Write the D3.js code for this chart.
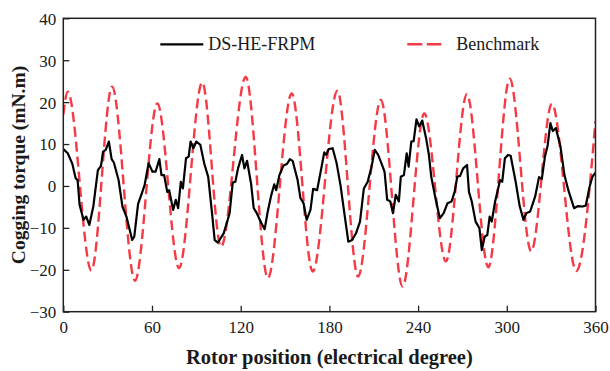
<!DOCTYPE html>
<html>
<head>
<meta charset="utf-8">
<script src="https://cdn.jsdelivr.net/npm/d3@7"></script>
<style>
  body { margin: 0; background: #fff; }
  svg { display: block; }
</style>
</head>
<body>
<div id="chart"></div>
<script>
// cogging torque data
var dsAngle = [0, 3, 6, 8.4, 9.7, 11, 13.7, 15.5, 17.6, 20.3, 23.4, 25.5, 26.9, 28.7, 30.8, 32.7, 34.2, 37.4, 40, 42.7, 46.6, 48, 50.6, 52.4, 55, 57.7, 60.3, 62.4, 65, 66.4, 68.2, 70.3, 71.6, 74.3, 76.1, 77.7, 79.5, 80.9, 83, 84.8, 86.1, 88, 90, 92.7, 95.3, 98, 100.6, 102.4, 104.6, 108.5, 112.5, 114.6, 116.4, 118.2, 120.9, 122.5, 124.3, 127, 128.8, 130.9, 134, 136.2, 138.3, 140.6, 142.7, 144, 146.2, 148.8, 151.4, 153.3, 155.1, 158.5, 160.4, 162.5, 164.6, 167.2, 169, 171.7, 174.3, 176.5, 177.8, 179.6, 182.2, 184.9, 187.5, 190.1, 192.8, 195.4, 198, 200.7, 203.3, 205.9, 208.5, 210.7, 213, 215.2, 217.3, 219.1, 221.2, 223, 224.9, 227, 228.3, 230.4, 232.3, 233.6, 235.4, 237, 238.9, 240.7, 242.8, 245.4, 247.3, 248.9, 251.5, 254.7, 257.3, 259.9, 262.6, 264.7, 266.5, 268.4, 270.5, 273.1, 274.4, 276.3, 278.9, 281.5, 283.1, 285, 286.8, 288.4, 289.8, 292.1, 295.5, 296.9, 298.7, 300.8, 302.6, 306, 308.7, 311.3, 313.2, 315.8, 319.2, 321.8, 323.7, 325.8, 327.6, 329.5, 331.1, 333.2, 336.3, 339, 341.6, 345.5, 348.2, 351.3, 353.4, 356, 357.9, 360];
var dsTorque = [8.8, 7.8, 5.4, 1.8, 1.4, -4.5, -8.1, -7.3, -9.3, -4.9, 3.8, 4.8, 8.2, 8.6, 10.6, 6.4, 5.6, 1.4, -4.9, -7.3, -12.9, -12.1, -4.3, -2.5, 0.2, 5.4, 3.4, 3.4, 6.4, 2.6, 2.6, -1.4, -1.0, -5.7, -3.3, -5.3, 1.0, -0.6, 6.6, 7.0, 10.6, 9.0, 10.6, 9.8, 5.4, 2.2, -6.5, -12.9, -13.5, -11.3, -6.5, 0.8, 1.0, 4.2, 7.4, 4.2, 6.0, 0.6, -5.3, -6.5, -8.9, -10.3, -6.1, -2.3, 0.4, -1.0, 2.6, 4.8, 5.3, 6.4, 6.0, 1.4, -2.9, -4.1, -8.1, -5.7, -0.7, -1.0, 3.8, 8.0, 7.4, 8.8, 9.0, 5.4, 0.2, -6.5, -13.3, -12.9, -11.3, -8.5, -0.6, 1.0, 4.6, 8.6, 7.4, 5.4, 3.4, -3.3, -3.7, -6.5, -2.1, -3.7, 2.2, 2.6, 7.8, 4.6, 10.6, 10.7, 15.9, 14.2, 15.6, 11.4, 7.4, 2.2, -2.5, -7.7, -6.5, -4.1, -3.7, -1.4, 2.2, 2.4, 4.2, 5.0, -1.4, -3.7, -8.5, -10.1, -15.3, -12.1, -11.7, -7.3, -8.5, -3.7, 1.4, 1.0, 6.6, 7.4, 7.2, 1.0, -4.8, -8.1, -6.5, -6.1, -2.5, 2.1, 1.7, 7.0, 9.6, 15.0, 13.1, 13.8, 9.4, 2.6, -1.0, -5.3, -4.8, -4.9, -4.7, -0.2, 2.2, 3.2];

var benchAngle = [0, 3, 19, 33, 48.5, 63.6, 78.3, 94, 106.7, 123.4, 138.4, 154.5, 168.7, 185.4, 199.4, 214.8, 229.5, 244.2, 258.8, 273, 287.5, 302, 316.5, 330.5, 347, 360];
var benchTorque = [17, 22.5, -20.2, 23.7, -22.6, 19.7, -19.6, 24.7, -14.5, 26, -22, 22.1, -20.4, 22.7, -21.6, 20.5, -24, 17.3, -18, 21.9, -19.4, 25.6, -15.6, 19.6, -20.3, 15.5];

var xTicks = [0, 60, 120, 180, 240, 300, 360];
var yTicks = [-30, -20, -10, 0, 10, 20, 30, 40];
var seriesNames = ["DS-HE-FRPM", "Benchmark"];

var FONT = "'Liberation Serif'";

var W = 610, H = 371;
var margin = {top: 18.3, right: 14.5, bottom: 59.3, left: 63.3},
    width = W - margin.left - margin.right,
    height = H - margin.top - margin.bottom;

var svg = d3.select("#chart").append("svg")
    .attr("width", W)
    .attr("height", H);

var g = svg.append("g")
    .attr("transform", "translate(" + margin.left + "," + margin.top + ")");

var x = d3.scaleLinear().domain([0, 360]).range([0, width]);
var y = d3.scaleLinear().domain([-30, 40]).range([height, 0]);

var dsData = dsAngle.map(function(a, i){ return {x: a, y: dsTorque[i]}; });
var benchData = benchAngle.map(function(a, i){ return {x: a, y: benchTorque[i]}; });

var lineDs = d3.line()
    .x(function(d){ return x(d.x); })
    .y(function(d){ return y(d.y); });
var lineBench = d3.line()
    .curve(d3.curveMonotoneX)
    .x(function(d){ return x(d.x); })
    .y(function(d){ return y(d.y); });

// clip to plot box
g.append("clipPath").attr("id", "clip")
  .append("rect").attr("width", width).attr("height", height);

g.append("path")
    .datum(benchData)
    .attr("d", lineBench)
    .attr("clip-path", "url(#clip)")
    .style("fill", "none")
    .style("stroke", "#f43a44")
    .style("stroke-width", "2.4px")
    .style("stroke-dasharray", "10,5");

g.append("path")
    .datum(dsData)
    .attr("d", lineDs)
    .attr("clip-path", "url(#clip)")
    .style("fill", "none")
    .style("stroke", "#000")
    .style("stroke-width", "2.2px")
    .style("stroke-linejoin", "round");

// axes, ticks pointing inward
var xAxis = g.append("g")
    .attr("transform", "translate(0," + height + ")")
    .call(d3.axisBottom(x).tickValues(xTicks).tickSizeInner(-6).tickSizeOuter(0).tickPadding(9));
var yAxis = g.append("g")
    .call(d3.axisLeft(y).tickValues(yTicks).tickSizeInner(-6).tickSizeOuter(0).tickPadding(7));

[xAxis, yAxis].forEach(function(ax){
  ax.select(".domain").remove();
  ax.selectAll("line").style("stroke", "#222").style("stroke-width", "1.3px");
  ax.selectAll("text")
    .style("font-family", FONT)
    .style("font-size", "17px")
    .style("fill", "#1a1a1a");
});
yAxis.selectAll("text").attr("dy", "0.35em");
xAxis.selectAll("text").attr("dy", "0.75em");

// frame
g.append("rect")
    .attr("width", width)
    .attr("height", height)
    .style("fill", "none")
    .style("stroke", "#222")
    .style("stroke-width", "1.5px");

// axis titles
svg.append("text")
    .attr("x", margin.left + width / 2)
    .attr("y", 364)
    .attr("text-anchor", "middle")
    .style("font-family", FONT)
    .style("font-size", "20.5px")
    .style("font-weight", "bold")
    .style("fill", "#1a1a1a")
    .text("Rotor position (electrical degree)");

svg.append("text")
    .attr("transform", "translate(25," + (margin.top + height / 2) + ") rotate(-90)")
    .attr("text-anchor", "middle")
    .style("font-family", FONT)
    .style("font-size", "19.5px")
    .style("font-weight", "bold")
    .style("fill", "#1a1a1a")
    .text("Cogging torque (mN.m)");

// legend
var leg = g.append("g");
leg.append("line")
    .attr("x1", 97).attr("x2", 140)
    .attr("y1", 26).attr("y2", 26)
    .style("stroke", "#000").style("stroke-width", "2.2px");
leg.append("text")
    .attr("x", 145).attr("y", 32)
    .style("font-family", FONT)
    .style("font-size", "18px")
    .style("fill", "#1a1a1a")
    .text(seriesNames[0]);
leg.append("line")
    .attr("x1", 344).attr("x2", 378)
    .attr("y1", 26).attr("y2", 26)
    .style("stroke", "#f43a44").style("stroke-width", "2.4px")
    .style("stroke-dasharray", "15,4.5");
leg.append("text")
    .attr("x", 393).attr("y", 32)
    .style("font-family", FONT)
    .style("font-size", "18px")
    .style("fill", "#1a1a1a")
    .text(seriesNames[1]);
</script>
</body>
</html>
